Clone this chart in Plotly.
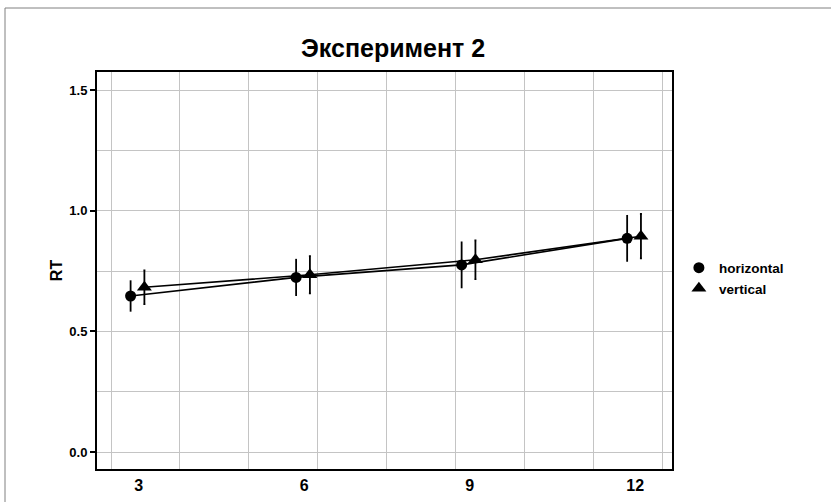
import plotly.graph_objects as go

# ---- data ----
set_size = [3, 6, 9, 12]
tick_labels = ["3", "6", "9", "12"]
rt_horizontal = [0.647, 0.724, 0.776, 0.886]
err_horizontal = [0.065, 0.077, 0.097, 0.097]
rt_vertical = [0.683, 0.735, 0.797, 0.895]
err_vertical = [0.070, 0.077, 0.080, 0.092]
y_ticks = [0.0, 0.5, 1.0, 1.5]
y_tick_labels = ["0.0", "0.5", "1.0", "1.5"]
x_grid = [2.5, 3.75, 5.0, 6.25, 7.5, 8.75, 10.0, 11.25, 12.5]
y_minor_grid = [0.25, 0.75, 1.25]

# dodge offsets (position only)
DODGE_H = -0.145
DODGE_V = 0.105
x_h = [v + DODGE_H for v in set_size]
x_v = [v + DODGE_V for v in set_size]

FONT = "Liberation Sans, Arial, sans-serif"
GRID = "#c4c4c4"
XRANGE = [2.246, 12.668]

fig = go.Figure()

# connecting lines
fig.add_trace(go.Scatter(x=x_h, y=rt_horizontal, mode="lines",
                         line=dict(color="black", width=1.6),
                         showlegend=False, hoverinfo="skip"))
fig.add_trace(go.Scatter(x=x_v, y=rt_vertical, mode="lines",
                         line=dict(color="black", width=1.6),
                         showlegend=False, hoverinfo="skip"))

# points with error bars
fig.add_trace(go.Scatter(x=x_h, y=rt_horizontal, mode="markers", name="horizontal",
                         marker=dict(symbol="circle", size=11, color="black"),
                         error_y=dict(type="data", array=err_horizontal, color="black",
                                      thickness=1.8, width=0)))
fig.add_trace(go.Scatter(x=x_v, y=rt_vertical, mode="markers", name="vertical",
                         marker=dict(symbol="triangle-up", size=13, color="black"),
                         error_y=dict(type="data", array=err_vertical, color="black",
                                      thickness=1.8, width=1)))

fig.update_layout(
    width=831, height=502,
    margin=dict(l=97, r=159, t=72, b=33, autoexpand=False),
    paper_bgcolor="white", plot_bgcolor="white",
    font=dict(family=FONT, color="black"),
    title=dict(text="Эксперимент 2", xref="paper", x=0.515, xanchor="center",
               yref="container", y=1 - 48 / 502, yanchor="middle", automargin=False,
               font=dict(size=25, family=FONT, weight="bold", color="black")),
    xaxis=dict(range=XRANGE, tickmode="array", tickvals=set_size, ticktext=tick_labels,
               showgrid=False, zeroline=False, ticks="", automargin=False,
               showline=True, mirror=True, linecolor="black", linewidth=2,
               tickfont=dict(size=16, family=FONT, weight="bold", color="black"),
               ticklabelstandoff=1,
               minor=dict(tickmode="array", tickvals=x_grid, showgrid=True,
                          gridcolor=GRID, gridwidth=1, ticks="")),
    yaxis=dict(range=[-0.0704, 1.5758], tickmode="array", tickvals=y_ticks,
               ticktext=y_tick_labels, showgrid=True, gridcolor=GRID, gridwidth=1,
               zeroline=False, ticks="outside", ticklen=5, tickwidth=1.5, tickcolor="black",
               showline=True, mirror=True, linecolor="black", linewidth=2, automargin=False,
               tickfont=dict(size=13, family=FONT, weight="bold", color="black"),
               minor=dict(tickmode="array", tickvals=y_minor_grid, showgrid=True,
                          gridcolor=GRID, gridwidth=1, ticks=""),
               title=dict(text="RT", standoff=3,
                          font=dict(size=16, family=FONT, weight="bold", color="black"))),
    legend=dict(x=1.012, xanchor="left", y=0.48, yanchor="middle",
                font=dict(size=13.5, family=FONT, weight="bold", color="black"),
                tracegroupgap=0, itemwidth=30, bgcolor="rgba(0,0,0,0)"),
    shapes=[dict(type="rect", xref="paper", yref="paper",
                 x0=(5 - 97) / 575, x1=(840 - 97) / 575,
                 y0=-0.2, y1=1 + (72 - 8) / 397,
                 line=dict(color="#808080", width=1), layer="below")],
)

fig.write_html("out.html", config={"displayModeBar": False},
               post_script="document.body.style.margin='0';document.body.style.overflow='hidden';")
